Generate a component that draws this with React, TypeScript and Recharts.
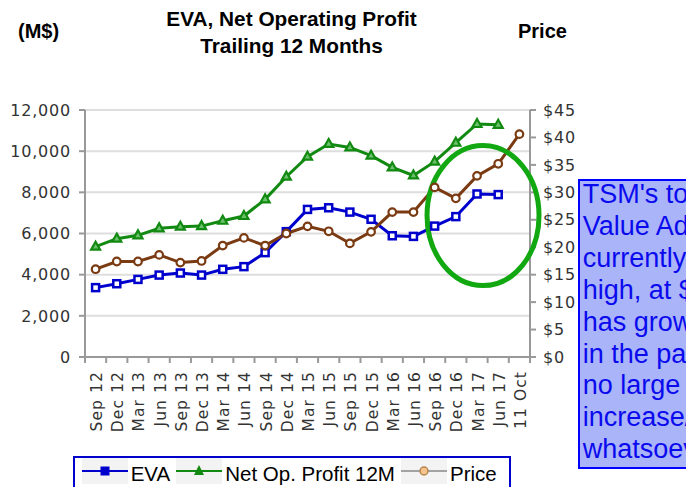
import React from 'react';
import { LineChart, Line, XAxis, YAxis, CartesianGrid, Legend, ReferenceDot } from 'recharts';

const categories = ['Sep 12', 'Dec 12', 'Mar 13', 'Jun 13', 'Sep 13', 'Dec 13', 'Mar 14', 'Jun 14', 'Sep 14', 'Dec 14', 'Mar 15', 'Jun 15', 'Sep 15', 'Dec 15', 'Mar 16', 'Jun 16', 'Sep 16', 'Dec 16', 'Mar 17', 'Jun 17', '11 Oct'];
const evaValues = [3370, 3560, 3770, 3980, 4080, 3980, 4260, 4390, 5070, 6090, 7170, 7250, 7040, 6690, 5890, 5860, 6360, 6820, 7920, 7890, null];
const netOpValues = [5360, 5750, 5910, 6250, 6330, 6360, 6620, 6850, 7660, 8760, 9730, 10350, 10180, 9780, 9210, 8820, 9490, 10410, 11320, 11280, null];
const priceValues = [16.0, 17.4, 17.4, 18.6, 17.2, 17.5, 20.3, 21.7, 20.3, 22.5, 23.8, 22.9, 20.7, 22.8, 26.4, 26.4, 30.9, 28.9, 33.0, 35.2, 40.6];
const leftTicks = [0, 2000, 4000, 6000, 8000, 10000, 12000];
const rightTicks = [0, 5, 10, 15, 20, 25, 30, 35, 40, 45];
const seriesNames = { eva: 'EVA', netOp: 'Net Op. Profit 12M', price: 'Price' };
const titleLines = ['EVA, Net Operating Profit', 'Trailing 12 Months'];
const leftUnit = '(M$)';
const rightUnit = 'Price';
const noteLines = ["TSM's total Economic", 'Value Added is', 'currently at an all-time', 'high, at $7.9B, and', 'has grown strongly', 'in the past 5 years, with', 'no large share', 'increase/decrease', 'whatsoever.'];
const highlightCategory = 'Mar 17';
const highlightValue = 6870;

const data = categories.map((c, i) => ({ cat: c, eva: evaValues[i], netOp: netOpValues[i], price: priceValues[i] }));

const BLUE = '#0000cc';
const GREEN = '#128a12';
const BROWN = '#7a3a12';
const AXIS = '#999';
const TXT = '#333';

const SquareDot = (p: any) => {
  if (p.cx == null || p.cy == null || p.value == null) return <g key={`s${p.index}`} />;
  return <rect key={`s${p.index}`} x={p.cx - 3.5} y={p.cy - 3.5} width={7} height={7} fill="#fff" stroke={BLUE} strokeWidth={2.5} />;
};
const TriangleDot = (p: any) => {
  if (p.cx == null || p.cy == null || p.value == null) return <g key={`t${p.index}`} />;
  const { cx, cy } = p;
  return <polygon key={`t${p.index}`} points={`${cx},${cy - 5} ${cx + 4.5},${cy + 3} ${cx - 4.5},${cy + 3}`} fill="#6cc26c" stroke={GREEN} strokeWidth={2.2} />;
};
const CircleDot = (p: any) => {
  if (p.cx == null || p.cy == null || p.value == null) return <g key={`c${p.index}`} />;
  return <circle key={`c${p.index}`} cx={p.cx} cy={p.cy} r={3.8} fill="#fff" stroke={BROWN} strokeWidth={2.2} />;
};

const XTick = (props: any) => {
  const { x, y, payload, index } = props;
  const half = payload && payload.offset ? payload.offset : 10.6;
  return (
    <g>
      <line x1={x - half} x2={x - half} y1={y} y2={y + 6} stroke={AXIS} strokeWidth={2} />
      {index === categories.length - 1 && <line x1={x + half} x2={x + half} y1={y} y2={y + 6} stroke={AXIS} strokeWidth={2} />}
      <text transform={`translate(${x + 6.5},${y + 14}) rotate(-90)`} textAnchor="end" fill={TXT} fontSize={15.5} fontFamily="DejaVu Sans" letterSpacing={1.1}>{payload.value}</text>
    </g>
  );
};

const LegendIcon = ({ kind }: { kind: string }) => (
  <svg width={46} height={26} style={{ display: 'block' }}>
    <rect x={0} y={0} width={46} height={26} fill="#f3f3f3" />
    {kind === 'eva' && (<g><line x1={0} x2={46} y1={13} y2={13} stroke={BLUE} strokeWidth={2} /><rect x={18.5} y={8.5} width={9} height={9} fill={BLUE} /></g>)}
    {kind === 'netOp' && (<g><line x1={0} x2={46} y1={13} y2={13} stroke={GREEN} strokeWidth={2} /><polygon points="23,7 28,17 18,17" fill={GREEN} /></g>)}
    {kind === 'price' && (<g><line x1={0} x2={46} y1={13} y2={13} stroke="#888" strokeWidth={1.5} /><circle cx={23} cy={13} r={4} fill="#f5c48e" stroke="#b8864f" strokeWidth={1.5} /></g>)}
  </svg>
);

const renderLegend = (props: any) => {
  const payload = props.payload || [];
  return (
    <div style={{ boxSizing: 'border-box', width: 438, height: 40, border: `2px solid ${BLUE}`, background: '#fff', display: 'flex', alignItems: 'flex-start', paddingLeft: 7, fontFamily: '"Liberation Sans", Arial, sans-serif', fontSize: 20.5, color: '#000' }}>
      {payload.map((item: any) => (
        <div key={item.dataKey} style={{ display: 'flex', alignItems: 'flex-start', marginRight: 6 }}>
          <LegendIcon kind={item.dataKey} />
          <span style={{ marginLeft: 3, lineHeight: '26px', position: 'relative', top: 3, whiteSpace: 'nowrap' }}>{item.value}</span>
        </div>
      ))}
    </div>
  );
};

export default function App() {
  const boldText: React.CSSProperties = { position: 'absolute', fontFamily: '"Liberation Sans", Arial, sans-serif', fontWeight: 'bold', fontSize: 20, color: '#000', lineHeight: '27px', whiteSpace: 'nowrap' };
  return (
    <div style={{ position: 'absolute', left: 0, top: 0, width: 686, height: 487, overflow: 'hidden', background: '#fff' }}>
      <LineChart width={686} height={487} data={data} margin={{ top: 110, right: 0, left: 0, bottom: 50 }}>
        <CartesianGrid vertical={false} yAxisId="left" stroke="#dedede" strokeWidth={2} />
        <XAxis dataKey="cat" scale="band" interval={0} height={80} tickSize={0} tickMargin={0} tickLine={false} axisLine={{ stroke: AXIS, strokeWidth: 2 }} tick={<XTick />} />
        <YAxis yAxisId="left" orientation="left" width={85} domain={[0, 12000]} ticks={leftTicks} interval={0} tickSize={6} tickMargin={8}
          tickLine={{ stroke: AXIS, strokeWidth: 2 }} axisLine={{ stroke: AXIS, strokeWidth: 2 }}
          tick={{ fill: TXT, fontSize: 16, fontFamily: 'DejaVu Sans', letterSpacing: 0.8 }}
          tickFormatter={(v: number) => v.toLocaleString('en-US')} />
        <YAxis yAxisId="right" orientation="right" width={156} domain={[0, 45]} ticks={rightTicks} interval={0} tickSize={6} tickMargin={7}
          tickLine={{ stroke: AXIS, strokeWidth: 2 }} axisLine={{ stroke: AXIS, strokeWidth: 2 }}
          tick={{ fill: TXT, fontSize: 16, fontFamily: 'DejaVu Sans', letterSpacing: 0.8 }}
          tickFormatter={(v: number) => `$${v}`} />
        <Line yAxisId="left" dataKey="eva" name={seriesNames.eva} stroke={BLUE} strokeWidth={3} dot={SquareDot} activeDot={false} isAnimationActive={false} />
        <Line yAxisId="left" dataKey="netOp" name={seriesNames.netOp} stroke={GREEN} strokeWidth={3} dot={TriangleDot} activeDot={false} isAnimationActive={false} />
        <Line yAxisId="right" dataKey="price" name={seriesNames.price} stroke={BROWN} strokeWidth={3} dot={CircleDot} activeDot={false} isAnimationActive={false} />
        <ReferenceDot yAxisId="left" x={highlightCategory} y={highlightValue} r={0} ifOverflow="visible"
          shape={(p: any) => <ellipse cx={p.cx + 6} cy={p.cy} rx={56} ry={70} fill="none" stroke="#11a811" strokeWidth={5} />} />
        <Legend verticalAlign="middle" align="center" layout="horizontal" content={renderLegend} wrapperStyle={{ left: 72.7, top: 456, width: 440, height: 40 }} />
      </LineChart>
      <div style={{ ...boldText, fontSize: 20.8, left: 0, width: 583, top: 5, textAlign: 'center' }}>
        {titleLines.map((t) => <div key={t}>{t}</div>)}
      </div>
      <div style={{ ...boldText, left: 18, top: 18 }}>{leftUnit}</div>
      <div style={{ ...boldText, left: 518, top: 18 }}>{rightUnit}</div>
      <div style={{ position: 'absolute', left: 578, top: 179, width: 200, height: 290, boxSizing: 'border-box', border: '2px solid #0000ff', background: '#aab4f8', overflow: 'hidden' }}>
        <div style={{ marginTop: -2, paddingLeft: 2.7, fontFamily: '"Liberation Sans", Arial, sans-serif', fontSize: 27, lineHeight: '31.9px', color: '#0a0aee', whiteSpace: 'pre' }}>
          {noteLines.map((l, i) => <div key={i}>{l}</div>)}
        </div>
      </div>
    </div>
  );
}
